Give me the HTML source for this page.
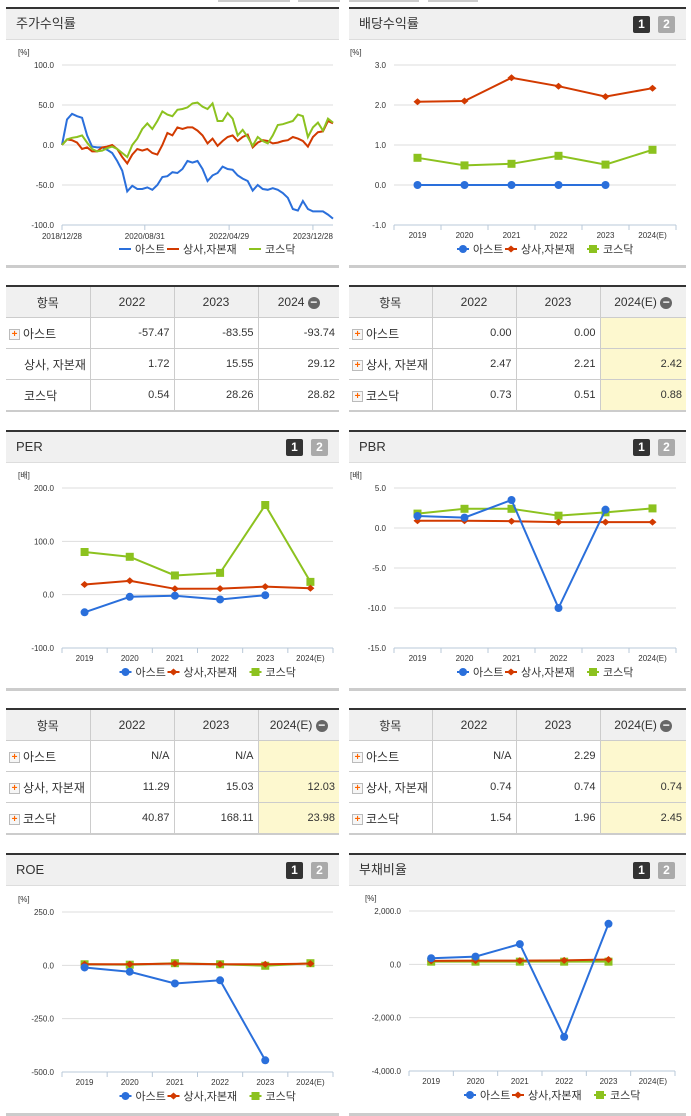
<!DOCTYPE html>
<html><head><meta charset="utf-8">
<style>
body{margin:0;width:691px;height:1115px;background:#fff;position:relative;overflow:hidden;font-family:"Liberation Sans","Noto Sans CJK KR",sans-serif;}
.panel{position:absolute;border-top:2px solid #333;border-bottom:3px solid #ccc;background:#fff;}
.hdr{height:30px;background:#f0f0f0;border-bottom:1px solid #ddd;font-size:13px;color:#333;line-height:30px;padding-left:10px;position:relative;}
.pg{position:absolute;top:7px;width:17px;height:17px;font-size:12px;font-weight:bold;color:#fff;text-align:center;line-height:17px;border-radius:2px;}
.p1{right:36px;background:#333;}.p2{right:11px;background:#aaa;}
svg{position:absolute;left:0;top:0;}
table{position:absolute;border-collapse:collapse;table-layout:fixed;border-top:2px solid #333;border-bottom:2px solid #ccc;font-size:11px;color:#333;}
td,th{border:1px solid #ccc;height:30px;padding:0 4px;overflow:hidden;}
tr td:first-child,tr th:first-child{border-left:none}
tr td:last-child,tr th:last-child{border-right:none}
th{background:#f0f0f0;font-weight:normal;font-size:12px;}
td{text-align:right;}
td.n{text-align:left;font-size:12px;white-space:nowrap;padding-left:3px;}
.y{background:#fdf8cf;}
.ic{display:inline-block;width:9px;height:9px;border:1px solid #bbb;background:#f6f6f6;color:#f60;font-size:10px;line-height:9px;text-align:center;font-weight:bold;vertical-align:middle;margin-right:3px;}
.mi{display:inline-block;width:12px;height:12px;border-radius:50%;background:#666;color:#fff;line-height:11px;font-size:12px;vertical-align:middle;font-weight:bold;}
</style></head><body>
<div style="position:absolute;left:218px;top:0;width:350px;height:3px;">
<div style="position:absolute;left:0;width:72px;height:2px;background:#ccc"></div><div style="position:absolute;left:80px;width:42px;height:2px;background:#ccc"></div><div style="position:absolute;left:131px;width:70px;height:2px;background:#ccc"></div><div style="position:absolute;left:210px;width:50px;height:2px;background:#ccc"></div></div>

<div class="panel" style="left:6px;top:7px;width:333px;height:256px;"><div class="hdr">주가수익률</div></div>
<div class="panel" style="left:349px;top:7px;width:337px;height:256px;"><div class="hdr">배당수익률<span class="pg p1">1</span><span class="pg p2">2</span></div></div>
<div class="panel" style="left:6px;top:430px;width:333px;height:256px;"><div class="hdr">PER<span class="pg p1">1</span><span class="pg p2">2</span></div></div>
<div class="panel" style="left:349px;top:430px;width:337px;height:256px;"><div class="hdr">PBR<span class="pg p1">1</span><span class="pg p2">2</span></div></div>
<div class="panel" style="left:6px;top:853px;width:333px;height:258px;"><div class="hdr">ROE<span class="pg p1">1</span><span class="pg p2">2</span></div></div>
<div class="panel" style="left:349px;top:853px;width:337px;height:258px;"><div class="hdr">부채비율<span class="pg p1">1</span><span class="pg p2">2</span></div></div>

<table style="left:6px;top:285px;width:333px;">
<colgroup><col style="width:84px"><col style="width:84px"><col style="width:84px"><col></colgroup>
<tr><th>항목</th><th>2022</th><th>2023</th><th>2024 <span class="mi">−</span></th></tr>
<tr><td class="n"><span class="ic">+</span>아스트</td><td>-57.47</td><td>-83.55</td><td>-93.74</td></tr>
<tr><td class="n" style="padding-left:18px">상사, 자본재</td><td>1.72</td><td>15.55</td><td>29.12</td></tr>
<tr><td class="n" style="padding-left:18px">코스닥</td><td>0.54</td><td>28.26</td><td>28.82</td></tr></table>
<table style="left:349px;top:285px;width:337px;">
<colgroup><col style="width:83px"><col style="width:84px"><col style="width:84px"><col></colgroup>
<tr><th>항목</th><th>2022</th><th>2023</th><th>2024(E) <span class="mi">−</span></th></tr>
<tr><td class="n"><span class="ic">+</span>아스트</td><td>0.00</td><td>0.00</td><td class="y"></td></tr>
<tr><td class="n"><span class="ic">+</span>상사, 자본재</td><td>2.47</td><td>2.21</td><td class="y">2.42</td></tr>
<tr><td class="n"><span class="ic">+</span>코스닥</td><td>0.73</td><td>0.51</td><td class="y">0.88</td></tr></table>
<table style="left:6px;top:708px;width:333px;">
<colgroup><col style="width:84px"><col style="width:84px"><col style="width:84px"><col></colgroup>
<tr><th>항목</th><th>2022</th><th>2023</th><th>2024(E) <span class="mi">−</span></th></tr>
<tr><td class="n"><span class="ic">+</span>아스트</td><td>N/A</td><td>N/A</td><td class="y"></td></tr>
<tr><td class="n"><span class="ic">+</span>상사, 자본재</td><td>11.29</td><td>15.03</td><td class="y">12.03</td></tr>
<tr><td class="n"><span class="ic">+</span>코스닥</td><td>40.87</td><td>168.11</td><td class="y">23.98</td></tr></table>
<table style="left:349px;top:708px;width:337px;">
<colgroup><col style="width:83px"><col style="width:84px"><col style="width:84px"><col></colgroup>
<tr><th>항목</th><th>2022</th><th>2023</th><th>2024(E) <span class="mi">−</span></th></tr>
<tr><td class="n"><span class="ic">+</span>아스트</td><td>N/A</td><td>2.29</td><td class="y"></td></tr>
<tr><td class="n"><span class="ic">+</span>상사, 자본재</td><td>0.74</td><td>0.74</td><td class="y">0.74</td></tr>
<tr><td class="n"><span class="ic">+</span>코스닥</td><td>1.54</td><td>1.96</td><td class="y">2.45</td></tr></table>

<svg id="s" width="691" height="1115"></svg>
<script>
const seriesNames=["아스트","상사,자본재","코스닥"];
const years=["2019","2020","2021","2022","2023","2024(E)"];
const stockAst=[0,32,39,36,34,12,-2,-3,-3,-6,-10,-20,-32,-58,-51,-55,-55,-53,-56,-50,-40,-39,-34,-35,-30,-20,-22,-20,-30,-45,-38,-35,-27,-30,-31,-38,-42,-45,-57,-50,-55,-56,-54,-56,-60,-66,-80,-82,-70,-80,-83,-83,-83,-87,-92];
const stockSec=[0,7,6,3,-5,-3,-8,-8,-3,-2,0,-5,-15,-23,-12,-5,-7,-5,-10,-12,0,15,12,22,20,22,22,18,12,2,8,-1,5,10,12,5,10,13,-3,3,6,5,2,3,5,6,10,8,5,-2,10,16,17,30,27];
const stockKsd=[0,7,9,10,12,3,-5,-8,-7,-4,-2,-5,-10,-15,0,8,20,27,20,30,42,38,36,44,45,47,52,53,48,45,52,30,30,40,33,12,19,10,-1,10,5,2,12,25,26,28,30,38,36,10,22,28,18,33,28];
const stockDateLabels=["2018/12/28","2020/08/31","2022/04/29","2023/12/28"];
const stockDateIdx=[0,16.5,33.3,50];
const stockTicks=[100,50,0,-50,-100];
const divAst=[0,0,0,0,0,null];
const divSec=[2.08,2.1,2.68,2.47,2.21,2.42];
const divKsd=[0.68,0.49,0.53,0.73,0.51,0.88];
const divTicks=[3,2,1,0,-1];
const perAst=[-33,-4,-2,-9,-1,null];
const perSec=[19,26,11,11.29,15.03,12.03];
const perKsd=[80,71,36,40.87,168.11,23.98];
const perTicks=[200,100,0,-100];
const pbrAst=[1.5,1.3,3.5,-10,2.29,null];
const pbrSec=[0.9,0.9,0.85,0.74,0.74,0.74];
const pbrKsd=[1.8,2.4,2.4,1.54,1.96,2.45];
const pbrTicks=[5,0,-5,-10,-15];
const roeAst=[-10,-30,-85,-70,-445,null];
const roeSec=[5,5,8,5,5,8];
const roeKsd=[5,3,10,5,-2,10];
const roeTicks=[250,0,-250,-500];
const debtAst=[230,290,760,-2720,1520,null];
const debtSec=[130,140,140,150,180,null];
const debtKsd=[100,100,100,100,100,null];
const debtTicks=[2000,0,-2000,-4000];

const C=["#2a6fdb","#d23a00","#8cc21f"];
const S=document.getElementById('s');const NS="http://www.w3.org/2000/svg";
function el(t,a,txt){const e=document.createElementNS(NS,t);for(const k in a)e.setAttribute(k,a[k]);if(txt!=null)e.textContent=txt;S.appendChild(e);return e;}
function fmt(v){return v.toLocaleString('en-US',{minimumFractionDigits:1,maximumFractionDigits:1});}
function frame(o,ticks,unit){
 const y=v=>o.yTop+(o.max-v)/(o.max-o.min)*(o.yBot-o.yTop);
 const u=el('text',{x:o.x0-44,y:o.yTop-10,'font-size':8,fill:'#333'},unit);
 
 ticks.forEach(t=>{const g=el('line',{x1:o.x0,x2:o.x1,y1:y(t),y2:y(t),stroke:'#ddd'});
  
  const l=el('text',{x:o.x0-8,y:y(t)+3,'font-size':8,fill:'#333','text-anchor':'end'},fmt(t));
  });
 el('line',{x1:o.x0,x2:o.x1,y1:o.yBot,y2:o.yBot,stroke:'#b8c8d8'});
 el('line',{x1:o.x0,x2:o.x0,y1:o.yBot,y2:o.yBot+5,stroke:'#b8c8d8'});
 return y;}
function legend(cx,yy,markers){
 const w=[48,68,50];let x=cx-88;
 seriesNames.forEach((n,i)=>{el('line',{x1:x,x2:x+12,y1:yy-4,y2:yy-4,stroke:C[i],'stroke-width':2});
  if(markers){marker(i,x+6,yy-4);}
  const t=el('text',{x:x+16,y:yy,'font-size':11,fill:'#333'},n);
  
  x+=w[i]+(i==1?14:0);});}
function marker(i,x,y){let m;
 if(i==0)m=el('circle',{cx:x,cy:y,r:4,fill:C[0]});
 else if(i==1)m=el('path',{d:`M${x-4} ${y}L${x} ${y-3.5}L${x+4} ${y}L${x} ${y+3.5}Z`,fill:C[1]});
 else m=el('rect',{x:x-4,y:y-4,width:8,height:8,fill:C[2]});
 }
function catChart(o,data,ticks,unit){
 const y=frame(o,ticks,unit);const bw=(o.x1-o.x0)/years.length;
 years.forEach((yr,i)=>{el('line',{x1:o.x0+bw*(i+1),x2:o.x0+bw*(i+1),y1:o.yBot,y2:o.yBot+5,stroke:'#b8c8d8'});
  const t=el('text',{x:o.x0+bw*(i+.5),y:o.yBot+13,'font-size':8,fill:'#333','text-anchor':'middle'},yr);
  });
 [2,1,0].forEach(si=>{const d=data[si];let p="";
  d.forEach((v,i)=>{if(v==null)return;p+=(p?"L":"M")+(o.x0+bw*(i+.5))+" "+y(v);});
  const l=el('path',{d:p,fill:'none',stroke:C[si],'stroke-width':2});
  
  d.forEach((v,i)=>{if(v!=null)marker(si,o.x0+bw*(i+.5),y(v));});});
 legend((o.x0+o.x1)/2+10,o.yBot+28,true);}
(function(){const o={x0:62,x1:333,yTop:65,yBot:225,max:100,min:-100};
 const y=frame(o,stockTicks,"[%]");const n=stockAst.length;const x=i=>o.x0+i*(o.x1-o.x0)/(n-1);
 stockDateLabels.forEach((lb,k)=>{const xx=x(stockDateIdx[k]);el('line',{x1:xx,x2:xx,y1:o.yBot,y2:o.yBot+5,stroke:'#b8c8d8'});
  const t=el('text',{x:xx,y:o.yBot+14,'font-size':8,fill:'#333','text-anchor':'middle'},lb);
  });
 [stockAst,stockSec,stockKsd].forEach((d,si)=>{const p=d.map((v,i)=>(i?"L":"M")+x(i)+" "+y(v)).join("");
  const l=el('path',{d:p,fill:'none',stroke:C[si],'stroke-width':2});
  });
 legend(207,253,false);})();
catChart({x0:394,x1:676,yTop:65,yBot:225,max:3,min:-1},[divAst,divSec,divKsd],divTicks,"[%]");
catChart({x0:62,x1:333,yTop:488,yBot:648,max:200,min:-100},[perAst,perSec,perKsd],perTicks,"[배]");
catChart({x0:394,x1:676,yTop:488,yBot:648,max:5,min:-15},[pbrAst,pbrSec,pbrKsd],pbrTicks,"[배]");
catChart({x0:62,x1:333,yTop:912,yBot:1072,max:250,min:-500},[roeAst,roeSec,roeKsd],roeTicks,"[%]");
catChart({x0:409,x1:675,yTop:911,yBot:1071,max:2000,min:-4000},[debtAst,debtSec,debtKsd],debtTicks,"[%]");
</script>
</body></html>
